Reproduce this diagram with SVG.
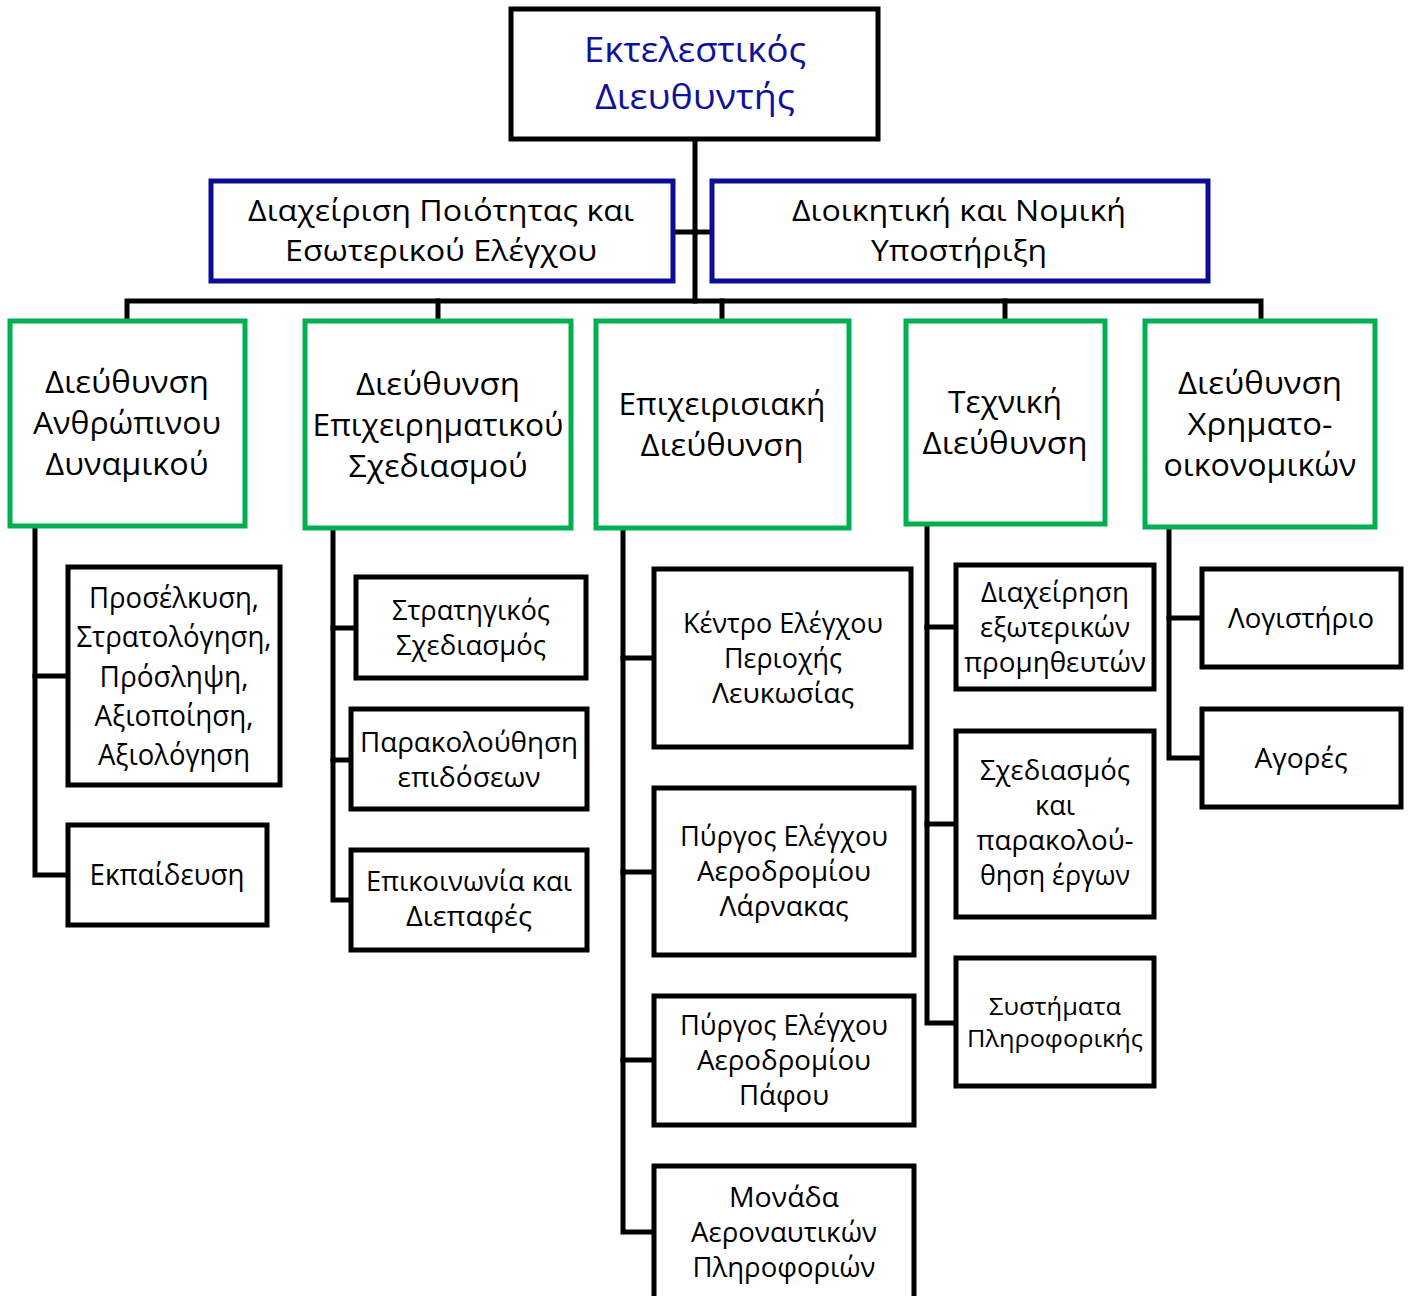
<svg xmlns="http://www.w3.org/2000/svg" width="1408" height="1296" viewBox="0 0 1408 1296">
  <style>
    .box { fill: #ffffff; stroke: #000000; stroke-width: 5; }
    .blue { fill: #ffffff; stroke: #0c0c96; stroke-width: 5; }
    .green { fill: #ffffff; stroke: #00b050; stroke-width: 5; }
    .wire { fill: none; stroke: #000000; stroke-width: 5; stroke-linecap: square; }
    text { font-family: "Open Sans", "Noto Sans", "DejaVu Sans", sans-serif; fill: #000000; text-anchor: middle; }
    .tb { fill: #10109e; font-size: 35px; }
    .t30 { font-size: 30px; }
    .t31 { font-size: 31px; }
    .t29 { font-size: 29px; }
    .t28 { font-size: 28px; }
    .t27 { font-size: 27px; }
    .t24 { font-size: 24px; }
  </style>

  <!-- connectors -->
  <g id="connectors">
    <path class="wire" d="M695 139 V301"/>
    <path class="wire" d="M673 232 H712"/>
    <path class="wire" d="M127 321 V301 H1261 V321"/>
    <path class="wire" d="M438 301 V321"/>
    <path class="wire" d="M722 301 V321"/>
    <path class="wire" d="M1005 301 V321"/>
    <!-- column 1 -->
    <path class="wire" d="M35 526 V875 H68"/>
    <path class="wire" d="M35 676 H68"/>
    <!-- column 2 -->
    <path class="wire" d="M333 528 V900 H351"/>
    <path class="wire" d="M333 628 H356"/>
    <path class="wire" d="M333 760 H351"/>
    <!-- column 3 -->
    <path class="wire" d="M623 528 V1232 H654"/>
    <path class="wire" d="M623 658 H654"/>
    <path class="wire" d="M623 872 H654"/>
    <path class="wire" d="M623 1060 H654"/>
    <!-- column 4 -->
    <path class="wire" d="M927 524 V1023 H956"/>
    <path class="wire" d="M927 627 H956"/>
    <path class="wire" d="M927 824 H956"/>
    <!-- column 5 -->
    <path class="wire" d="M1169 527 V758 H1202"/>
    <path class="wire" d="M1169 618 H1202"/>
  </g>

  <!-- executive -->
  <g id="ceo">
    <rect class="box" x="511" y="9" width="367" height="130"/>
    <text class="tb" x="695" y="62" textLength="222" lengthAdjust="spacingAndGlyphs">Εκτελεστικός</text>
    <text class="tb" x="695" y="109" textLength="200" lengthAdjust="spacingAndGlyphs">Διευθυντής</text>
  </g>

  <!-- staff units -->
  <g id="quality">
    <rect class="blue" x="211" y="181" width="462" height="100"/>
    <text class="t30" x="441" y="221" textLength="386" lengthAdjust="spacingAndGlyphs">Διαχείριση Ποιότητας και</text>
    <text class="t30" x="441" y="261" textLength="312" lengthAdjust="spacingAndGlyphs">Εσωτερικού Ελέγχου</text>
  </g>
  <g id="legal">
    <rect class="blue" x="712" y="181" width="496" height="100"/>
    <text class="t30" x="959" y="221" textLength="334" lengthAdjust="spacingAndGlyphs">Διοικητική και Νομική</text>
    <text class="t30" x="959" y="261" textLength="176" lengthAdjust="spacingAndGlyphs">Υποστήριξη</text>
  </g>

  <!-- directorates -->
  <g id="hr">
    <rect class="green" x="10" y="321" width="235" height="205"/>
    <text class="t31" x="127" y="393" textLength="164" lengthAdjust="spacingAndGlyphs">Διεύθυνση</text>
    <text class="t31" x="127" y="434" textLength="188" lengthAdjust="spacingAndGlyphs">Ανθρώπινου</text>
    <text class="t31" x="127" y="475" textLength="163" lengthAdjust="spacingAndGlyphs">Δυναμικού</text>
  </g>
  <g id="planning">
    <rect class="green" x="305" y="321" width="266" height="207"/>
    <text class="t31" x="438" y="395" textLength="164" lengthAdjust="spacingAndGlyphs">Διεύθυνση</text>
    <text class="t31" x="438" y="436" textLength="251" lengthAdjust="spacingAndGlyphs">Επιχειρηματικού</text>
    <text class="t31" x="438" y="477" textLength="179" lengthAdjust="spacingAndGlyphs">Σχεδιασμού</text>
  </g>
  <g id="operations">
    <rect class="green" x="596" y="321" width="253" height="207"/>
    <text class="t31" x="722" y="415" textLength="207" lengthAdjust="spacingAndGlyphs">Επιχειρισιακή</text>
    <text class="t31" x="722" y="456" textLength="163" lengthAdjust="spacingAndGlyphs">Διεύθυνση</text>
  </g>
  <g id="technical">
    <rect class="green" x="906" y="321" width="199" height="203"/>
    <text class="t31" x="1005" y="413" textLength="114" lengthAdjust="spacingAndGlyphs">Τεχνική</text>
    <text class="t31" x="1005" y="454" textLength="165" lengthAdjust="spacingAndGlyphs">Διεύθυνση</text>
  </g>
  <g id="finance">
    <rect class="green" x="1145" y="321" width="230" height="206"/>
    <text class="t31" x="1260" y="394" textLength="164" lengthAdjust="spacingAndGlyphs">Διεύθυνση</text>
    <text class="t31" x="1260" y="435" textLength="145" lengthAdjust="spacingAndGlyphs">Χρηματο-</text>
    <text class="t31" x="1260" y="476" textLength="193" lengthAdjust="spacingAndGlyphs">οικονομικών</text>
  </g>

  <!-- human resources units -->
  <g id="recruitment">
    <rect class="box" x="68" y="567" width="212" height="218"/>
    <text class="t29" x="174" y="608" textLength="170" lengthAdjust="spacingAndGlyphs">Προσέλκυση,</text>
    <text class="t29" x="174" y="647" textLength="195" lengthAdjust="spacingAndGlyphs">Στρατολόγηση,</text>
    <text class="t29" x="174" y="687" textLength="149" lengthAdjust="spacingAndGlyphs">Πρόσληψη,</text>
    <text class="t29" x="174" y="726" textLength="159" lengthAdjust="spacingAndGlyphs">Αξιοποίηση,</text>
    <text class="t29" x="174" y="765" textLength="152" lengthAdjust="spacingAndGlyphs">Αξιολόγηση</text>
  </g>
  <g id="training">
    <rect class="box" x="68" y="825" width="199" height="100"/>
    <text class="t29" x="167" y="885" textLength="155" lengthAdjust="spacingAndGlyphs">Εκπαίδευση</text>
  </g>

  <!-- business planning units -->
  <g id="strategy">
    <rect class="box" x="356" y="577" width="230" height="101"/>
    <text class="t27" x="471" y="620" textLength="158" lengthAdjust="spacingAndGlyphs">Στρατηγικός</text>
    <text class="t27" x="471" y="655" textLength="150" lengthAdjust="spacingAndGlyphs">Σχεδιασμός</text>
  </g>
  <g id="performance">
    <rect class="box" x="351" y="709" width="236" height="100"/>
    <text class="t27" x="469" y="752" textLength="218" lengthAdjust="spacingAndGlyphs">Παρακολούθηση</text>
    <text class="t27" x="469" y="787" textLength="143" lengthAdjust="spacingAndGlyphs">επιδόσεων</text>
  </g>
  <g id="communication">
    <rect class="box" x="351" y="850" width="236" height="100"/>
    <text class="t27" x="469" y="891" textLength="206" lengthAdjust="spacingAndGlyphs">Επικοινωνία και</text>
    <text class="t27" x="469" y="926" textLength="126" lengthAdjust="spacingAndGlyphs">Διεπαφές</text>
  </g>

  <!-- operations units -->
  <g id="nicosia-acc">
    <rect class="box" x="654" y="569" width="257" height="178"/>
    <text class="t27" x="783" y="633" textLength="200" lengthAdjust="spacingAndGlyphs">Κέντρο Ελέγχου</text>
    <text class="t27" x="783" y="668" textLength="118" lengthAdjust="spacingAndGlyphs">Περιοχής</text>
    <text class="t27" x="783" y="703" textLength="142" lengthAdjust="spacingAndGlyphs">Λευκωσίας</text>
  </g>
  <g id="larnaca-twr">
    <rect class="box" x="654" y="788" width="260" height="167"/>
    <text class="t27" x="784" y="846" textLength="208" lengthAdjust="spacingAndGlyphs">Πύργος Ελέγχου</text>
    <text class="t27" x="784" y="881" textLength="174" lengthAdjust="spacingAndGlyphs">Αεροδρομίου</text>
    <text class="t27" x="784" y="916" textLength="129" lengthAdjust="spacingAndGlyphs">Λάρνακας</text>
  </g>
  <g id="paphos-twr">
    <rect class="box" x="654" y="996" width="260" height="129"/>
    <text class="t27" x="784" y="1035" textLength="208" lengthAdjust="spacingAndGlyphs">Πύργος Ελέγχου</text>
    <text class="t27" x="784" y="1070" textLength="174" lengthAdjust="spacingAndGlyphs">Αεροδρομίου</text>
    <text class="t27" x="784" y="1105" textLength="90" lengthAdjust="spacingAndGlyphs">Πάφου</text>
  </g>
  <g id="ais">
    <rect class="box" x="654" y="1166" width="260" height="150"/>
    <text class="t27" x="784" y="1207" textLength="110" lengthAdjust="spacingAndGlyphs">Μονάδα</text>
    <text class="t27" x="784" y="1242" textLength="186" lengthAdjust="spacingAndGlyphs">Αεροναυτικών</text>
    <text class="t27" x="784" y="1277" textLength="183" lengthAdjust="spacingAndGlyphs">Πληροφοριών</text>
  </g>

  <!-- technical units -->
  <g id="suppliers">
    <rect class="box" x="956" y="565" width="198" height="124"/>
    <text class="t27" x="1055" y="602" textLength="148" lengthAdjust="spacingAndGlyphs">Διαχείρηση</text>
    <text class="t27" x="1055" y="637" textLength="150" lengthAdjust="spacingAndGlyphs">εξωτερικών</text>
    <text class="t27" x="1055" y="672" textLength="182" lengthAdjust="spacingAndGlyphs">προμηθευτών</text>
  </g>
  <g id="projects">
    <rect class="box" x="956" y="731" width="198" height="186"/>
    <text class="t27" x="1055" y="780" textLength="150" lengthAdjust="spacingAndGlyphs">Σχεδιασμός</text>
    <text class="t27" x="1055" y="815" textLength="40" lengthAdjust="spacingAndGlyphs">και</text>
    <text class="t27" x="1055" y="850" textLength="157" lengthAdjust="spacingAndGlyphs">παρακολού-</text>
    <text class="t27" x="1055" y="885" textLength="150" lengthAdjust="spacingAndGlyphs">θηση έργων</text>
  </g>
  <g id="it-systems">
    <rect class="box" x="956" y="958" width="198" height="128"/>
    <text class="t24" x="1055" y="1015" textLength="132" lengthAdjust="spacingAndGlyphs">Συστήματα</text>
    <text class="t24" x="1055" y="1047" textLength="176" lengthAdjust="spacingAndGlyphs">Πληροφορικής</text>
  </g>

  <!-- finance units -->
  <g id="accounting">
    <rect class="box" x="1202" y="569" width="199" height="98"/>
    <text class="t28" x="1301" y="628" textLength="146" lengthAdjust="spacingAndGlyphs">Λογιστήριο</text>
  </g>
  <g id="procurement">
    <rect class="box" x="1202" y="709" width="199" height="98"/>
    <text class="t28" x="1301" y="768" textLength="93" lengthAdjust="spacingAndGlyphs">Αγορές</text>
  </g>
</svg>
